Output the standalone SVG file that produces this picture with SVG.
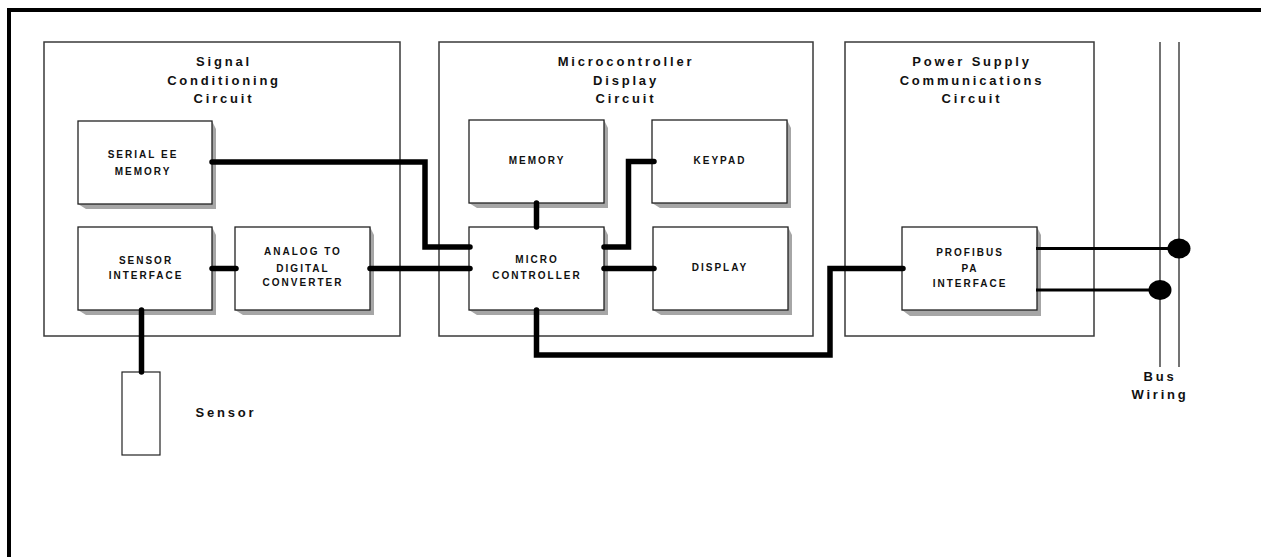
<svg xmlns="http://www.w3.org/2000/svg" width="1261" height="557" viewBox="0 0 1261 557">
<style>
.container{fill:#fff;stroke:#3a3a3a;stroke-width:1.5}
.box{fill:#fff;stroke:#222;stroke-width:1.3}
.shadow{fill:#a6a6a6}
.title{font-family:"Liberation Sans",Arial,sans-serif;font-weight:bold;font-size:13px;letter-spacing:2.8px;fill:#111;text-anchor:middle}
.lbl{font-family:"Liberation Sans",Arial,sans-serif;font-weight:bold;font-size:10px;letter-spacing:2px;fill:#111;text-anchor:middle}
.conn{fill:none;stroke:#000;stroke-width:5.5;stroke-linecap:round;stroke-linejoin:miter}
.thin{fill:none;stroke:#000;stroke-width:3}
.bus{stroke:#444;stroke-width:1.5}
</style>
<rect width="1261" height="557" fill="#fff"/>
<path d="M9 557 V10 H1261" fill="none" stroke="#000" stroke-width="4"/>

<g id="signal-conditioning">
<rect class="container" x="44" y="42" width="356" height="294"/>
<text class="title" x="224" y="66">Signal</text>
<text class="title" x="224" y="84.5">Conditioning</text>
<text class="title" x="224" y="103">Circuit</text>
</g>
<g id="microcontroller-display">
<rect class="container" x="439" y="42" width="374" height="294"/>
<text class="title" x="626" y="66">Microcontroller</text>
<text class="title" x="626" y="84.5">Display</text>
<text class="title" x="626" y="103">Circuit</text>
</g>
<g id="power-supply">
<rect class="container" x="845" y="42" width="249" height="294"/>
<text class="title" x="972" y="66">Power Supply</text>
<text class="title" x="972" y="84.5">Communications</text>
<text class="title" x="972" y="103">Circuit</text>
</g>

<g id="bus-wiring">
<line class="bus" x1="1160" y1="42" x2="1160" y2="367"/>
<line class="bus" x1="1179" y1="42" x2="1179" y2="367"/>
<text class="title" x="1160" y="380.5">Bus</text>
<text class="title" x="1160" y="399">Wiring</text>
</g>

<g id="serial-ee-memory">
<polygon class="shadow" points="212,121 216,129 216,209 86,209 78,204 212,204"/>
<rect class="box" x="78" y="121" width="134" height="83"/>
<text class="lbl" x="143" y="157.5">SERIAL EE</text>
<text class="lbl" x="143" y="174.5">MEMORY</text>
</g>
<g id="sensor-interface">
<polygon class="shadow" points="212,227 216,235 216,315 86,315 78,310 212,310"/>
<rect class="box" x="78" y="227" width="134" height="83"/>
<text class="lbl" x="146" y="263.5">SENSOR</text>
<text class="lbl" x="146" y="279.3">INTERFACE</text>
</g>
<g id="adc">
<polygon class="shadow" points="370,227 374,235 374,315 243,315 235,310 370,310"/>
<rect class="box" x="235" y="227" width="135" height="83"/>
<text class="lbl" x="303" y="255.3">ANALOG TO</text>
<text class="lbl" x="303" y="271.6">DIGITAL</text>
<text class="lbl" x="303" y="286">CONVERTER</text>
</g>
<g id="memory">
<polygon class="shadow" points="604,120 608,128 608,208 477,208 469,203 604,203"/>
<rect class="box" x="469" y="120" width="135" height="83"/>
<text class="lbl" x="537" y="164.3">MEMORY</text>
</g>
<g id="keypad">
<polygon class="shadow" points="787,120 791,128 791,208 660,208 652,203 787,203"/>
<rect class="box" x="652" y="120" width="135" height="83"/>
<text class="lbl" x="720" y="164.3">KEYPAD</text>
</g>
<g id="micro-controller">
<polygon class="shadow" points="604,227 608,235 608,315 477,315 469,310 604,310"/>
<rect class="box" x="469" y="227" width="135" height="83"/>
<text class="lbl" x="537" y="263">MICRO</text>
<text class="lbl" x="537" y="279.3">CONTROLLER</text>
</g>
<g id="display">
<polygon class="shadow" points="788,227 792,235 792,315 661,315 653,310 788,310"/>
<rect class="box" x="653" y="227" width="135" height="83"/>
<text class="lbl" x="720" y="271.3">DISPLAY</text>
</g>
<g id="profibus">
<polygon class="shadow" points="1037,227 1041,235 1041,316 910,316 902,310 1037,310"/>
<rect class="box" x="902" y="227" width="135" height="83"/>
<text class="lbl" x="970" y="255.5">PROFIBUS</text>
<text class="lbl" x="970" y="272">PA</text>
<text class="lbl" x="970" y="286.5">INTERFACE</text>
</g>
<g id="sensor">
<rect x="122" y="372" width="38" height="83" fill="#fff" stroke="#222" stroke-width="1.2"/>
<text class="title" x="226" y="417">Sensor</text>
</g>

<g id="connectors">
<path class="conn" d="M212 162 H425 V247 H470"/>
<path class="conn" d="M212 268.5 H236"/>
<path class="conn" d="M370 268.5 H470"/>
<path class="conn" d="M141.5 310 V372"/>
<path class="conn" d="M536.5 203 V227"/>
<path class="conn" d="M604 247 H628.5 V161.5 H654"/>
<path class="conn" d="M604 268.5 H654"/>
<path class="conn" d="M536.5 310 V355 H830 V268.5 H903"/>
<path class="thin" d="M1036 248.5 H1179"/>
<path class="thin" d="M1036 290 H1160"/>
<ellipse cx="1179" cy="248.5" rx="11.5" ry="10" fill="#000"/>
<ellipse cx="1160" cy="290" rx="11.5" ry="10" fill="#000"/>
</g>
</svg>
